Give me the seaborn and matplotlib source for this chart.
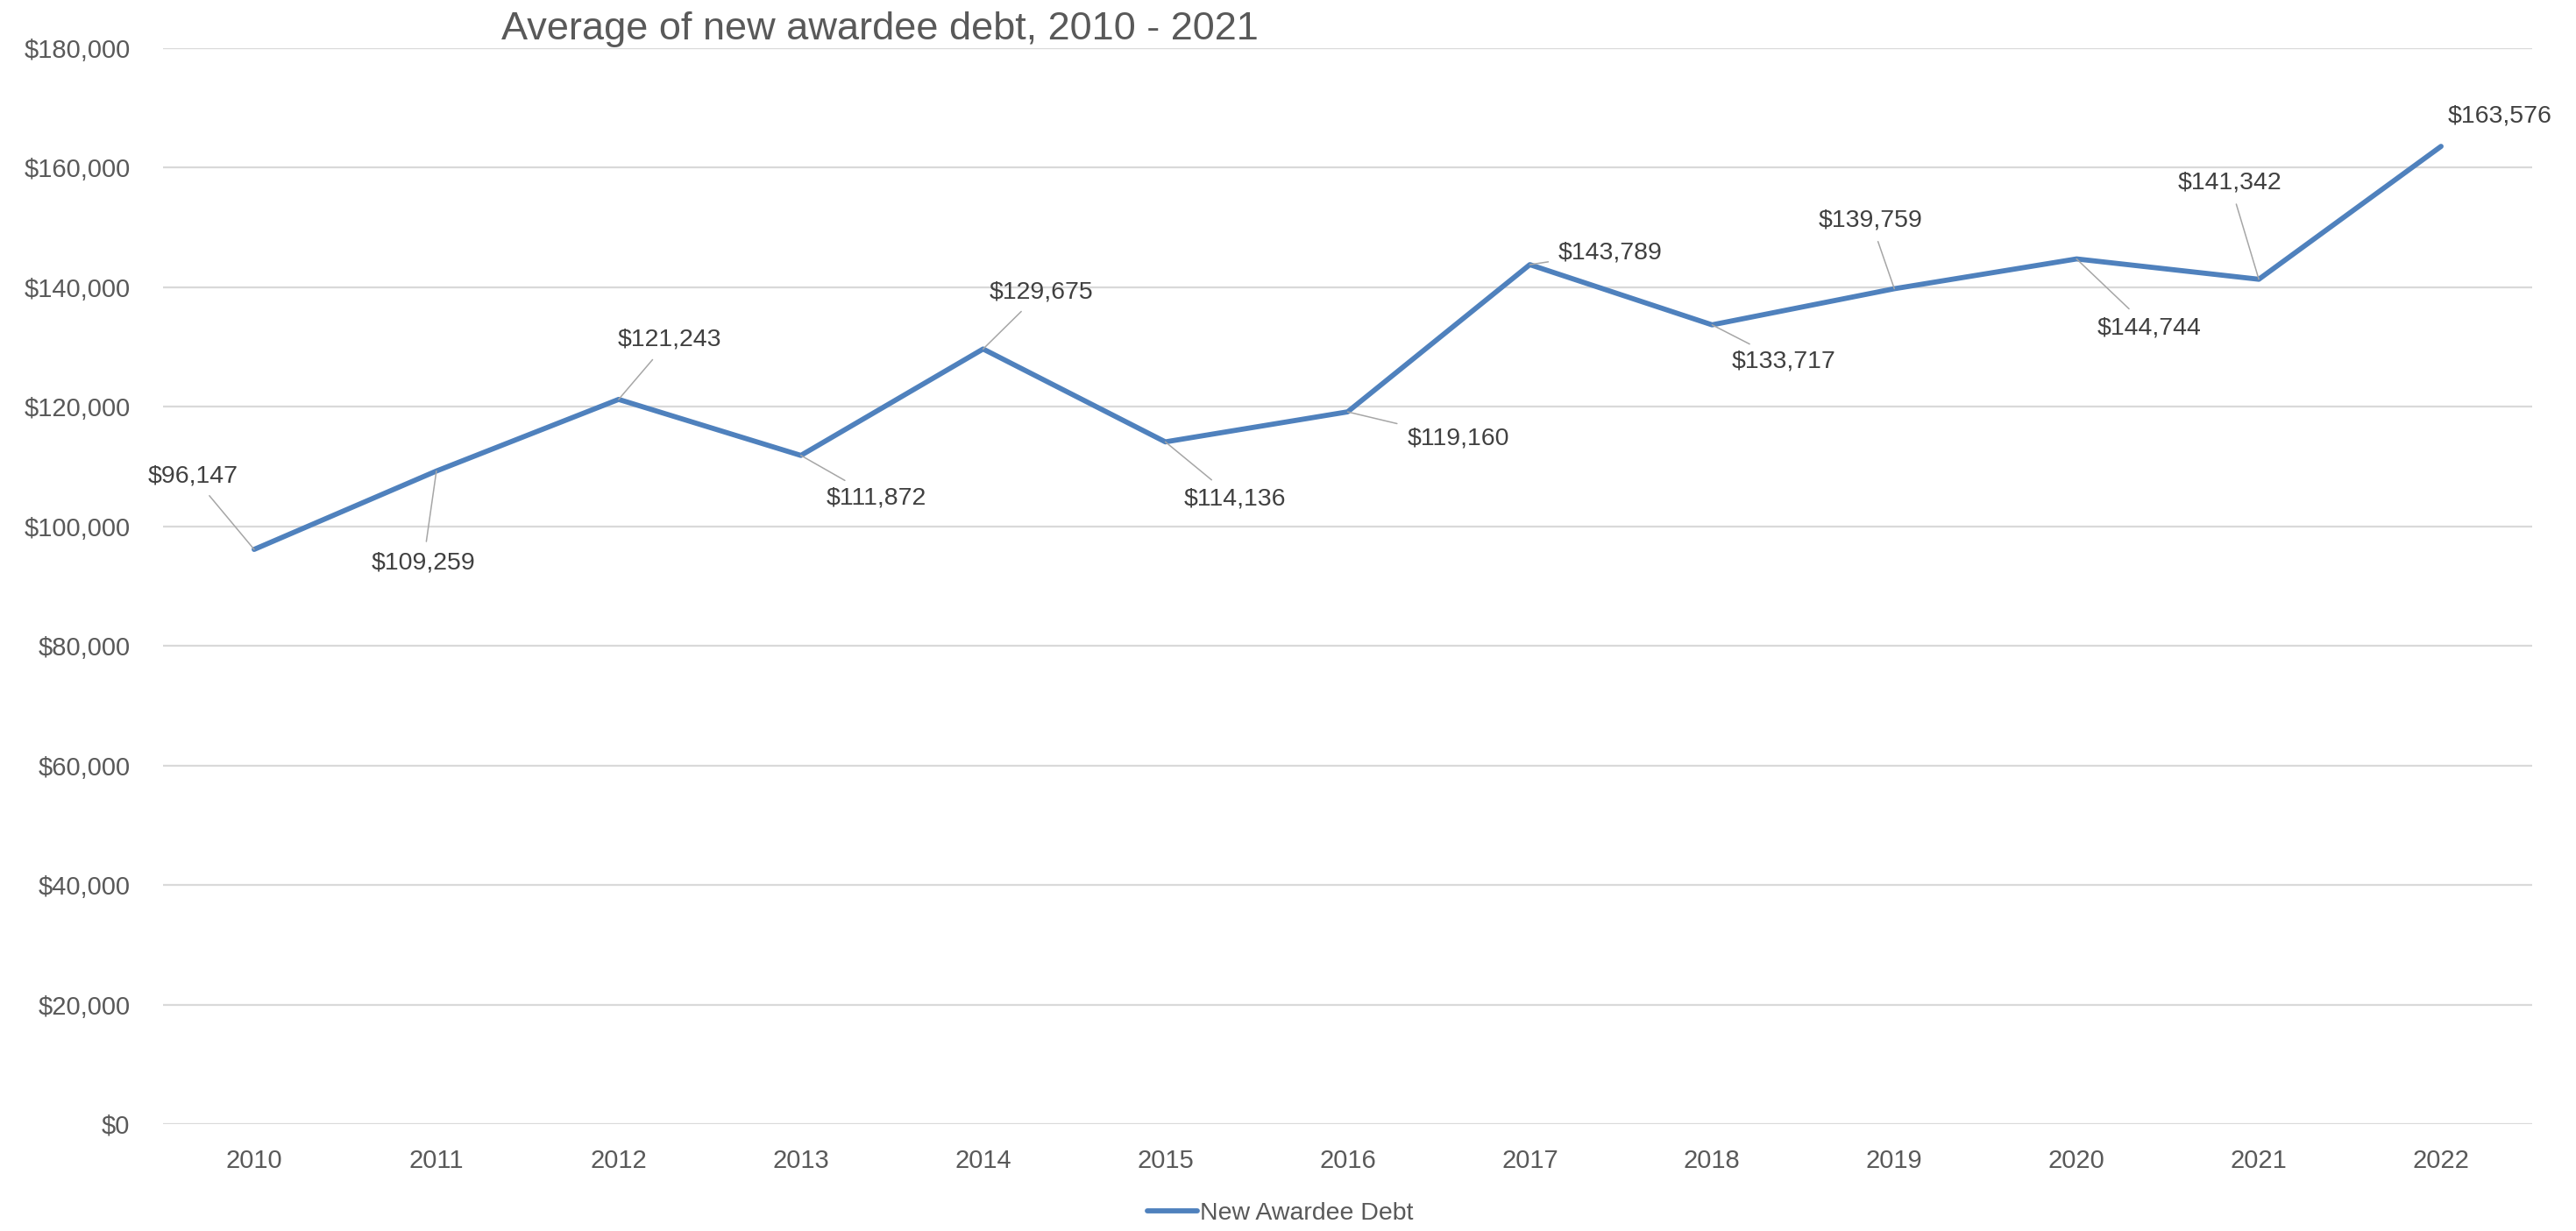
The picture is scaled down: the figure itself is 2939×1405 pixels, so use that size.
import pandas as pd
import seaborn as sns
import matplotlib
matplotlib.use('Agg')
from matplotlib import pyplot as plt
from matplotlib.ticker import FuncFormatter, MultipleLocator

# data
years = ['2010', '2011', '2012', '2013', '2014', '2015', '2016',
         '2017', '2018', '2019', '2020', '2021', '2022']
debt = [96147, 109259, 121243, 111872, 129675, 114136, 119160,
        143789, 133717, 139759, 144744, 141342, 163576]

# where each data label sits relative to its point (pixels)
label_dx = [-70, -15, 58, 86, 66, 79, 126, 92, 82, -27, 83, -33, 67]
label_dy = [84, -105, 68, -49, 65, -65, -30, 14, -42, 78, -79, 110, 35]
leader = [True] * 12 + [False]

sns.set_style('white')
plt.rcParams['font.family'] = ['Liberation Sans', 'DejaVu Sans']

df = pd.DataFrame({'Year': years, 'New Awardee Debt': debt})

line_color = '#4F81BD'
grey_text = '#595959'

fig = plt.figure(figsize=(29.39, 14.05), dpi=100)
ax = fig.add_axes([186 / 2939, 1 - 1283 / 1405, (2889 - 186) / 2939, (1283 - 55) / 1405])

sns.lineplot(df, x='Year', y='New Awardee Debt', color=line_color, linewidth=4.2,
             solid_capstyle='round', solid_joinstyle='round',
             ax=ax, label='New Awardee Debt', legend=False)

ax.set_xlim(-0.5, len(years) - 0.5)
ax.set_ylim(0, 180000)
ax.yaxis.set_major_locator(MultipleLocator(20000))
ax.yaxis.set_major_formatter(FuncFormatter(lambda v, p: f'${v:,.0f}'))
ax.grid(axis='y', color='#d9d9d9', linewidth=1.6)
ax.set_axisbelow(True)
for s in ax.spines.values():
    s.set_visible(False)
ax.tick_params(axis='y', length=0, pad=27, labelsize=21, labelcolor=grey_text)
ax.tick_params(axis='x', length=0, pad=20, labelsize=21, labelcolor=grey_text)
ax.set_xlabel('')
ax.set_ylabel('')

# data labels with grey leader lines, like Excel
for i, v in enumerate(debt):
    arrow = dict(arrowstyle='-', color='#a6a6a6', lw=1.1, shrinkA=6, shrinkB=0) if leader[i] else None
    ax.annotate(f'${v:,}', xy=(i, v), xytext=(label_dx[i], label_dy[i]),
                textcoords='offset pixels', ha='center', va='center',
                fontsize=20.5, color='#404040', arrowprops=arrow)

fig.text(572 / 2939, 1 - 33 / 1405, 'Average of new awardee debt, 2010 - 2021',
         ha='left', va='center', fontsize=32.5, color=grey_text)

handles, labels = ax.get_legend_handles_labels()
fig.legend(handles, labels, loc='center', bbox_to_anchor=(0.497, 1 - 1385 / 1405),
           frameon=False, fontsize=20.5, labelcolor=grey_text,
           handlelength=2.0, handletextpad=0.1)

fig.savefig('out.png', dpi=100, facecolor='white')
